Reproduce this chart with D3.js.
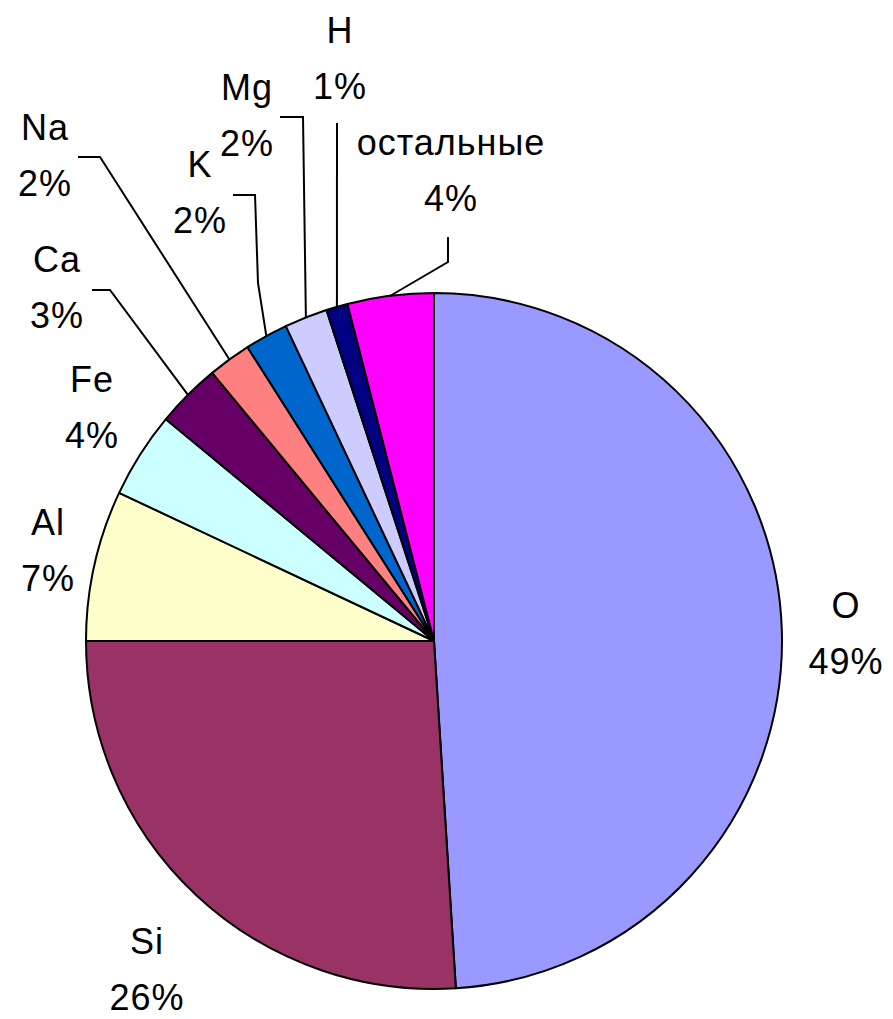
<!DOCTYPE html>
<html>
<head>
<meta charset="utf-8">
<script src="https://cdn.jsdelivr.net/npm/d3@7"></script>
<style>
  body { margin: 0; background: #fff; }
  text { font-family: "Liberation Sans", Arial, sans-serif; fill: #000; }
</style>
</head>
<body>
<script>
// data
var names = ["O", "Si", "Al", "Fe", "Ca", "Na", "K", "Mg", "H", "остальные"];
var values = [49, 26, 7, 4, 3, 2, 2, 2, 1, 4];
var colors = ["#9999ff", "#993366", "#ffffcc", "#ccffff", "#660066",
              "#ff8080", "#0066cc", "#ccccff", "#000080", "#ff00ff"];

var width = 893, height = 1019;
var cx = 434, cy = 641, r = 348;

// label anchors (centre x, baseline of first line)
var labelPos = {
  "O": [846, 618], "Si": [147, 954], "Al": [48, 535], "Fe": [92, 392],
  "Ca": [57, 272], "Na": [45, 140], "K": [200, 177], "Mg": [247, 100],
  "H": [340, 43], "остальные": [451, 155]
};
// leader line elbows (from label side), ending on the slice edge
var leaders = {
  "Ca": [[92, 290], [110, 290]],
  "Na": [[78, 157], [100, 157]],
  "K": [[233, 195], [255, 195], [258, 283]],
  "Mg": [[280, 117], [303, 117]],
  "H": [[337, 123]],
  "остальные": [[448, 237], [448, 262]]
};

var svg = d3.select("body").append("svg")
    .attr("width", width)
    .attr("height", height);

var g = svg.append("g").attr("transform", "translate(" + cx + "," + cy + ")");

var pie = d3.pie().sort(null).value(function (d) { return d; });
var arcs = pie(values);
var arc = d3.arc().innerRadius(0).outerRadius(r);
var edge = d3.arc().innerRadius(r).outerRadius(r);

g.selectAll("path")
    .data(arcs)
    .enter().append("path")
    .attr("d", arc)
    .attr("fill", function (d, i) { return colors[i]; })
    .attr("stroke", "#000")
    .attr("stroke-width", 2)
    .attr("stroke-linejoin", "round");

// leader lines
var line = d3.line();
arcs.forEach(function (d, i) {
  var pts = leaders[names[i]];
  if (!pts) return;
  var c = edge.centroid(d);
  var all = pts.concat([[c[0] + cx, c[1] + cy]]);
  svg.append("path")
      .attr("d", line(all))
      .attr("fill", "none")
      .attr("stroke", "#000")
      .attr("stroke-width", 2);
});

// labels
names.forEach(function (n, i) {
  var p = labelPos[n];
  var t = svg.append("text")
      .attr("x", p[0])
      .attr("y", p[1])
      .attr("text-anchor", "middle")
      .style("font-size", "36px")
      .style("letter-spacing", "1px");
  t.append("tspan").attr("x", p[0]).text(n);
  t.append("tspan").attr("x", p[0]).attr("dy", 56).text(values[i] + "%");
});
</script>
</body>
</html>
